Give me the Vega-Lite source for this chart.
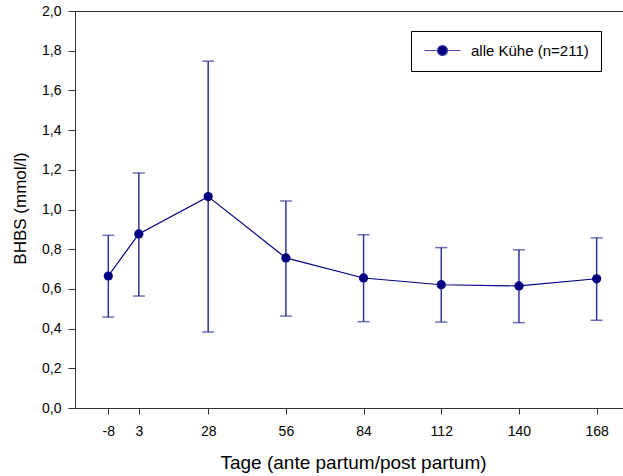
{
  "$schema": "https://vega.github.io/schema/vega-lite/v6.json",
  "autosize": {"type": "none"},
  "padding": {"left": 75, "top": 11, "right": 0, "bottom": 68},
  "width": 548,
  "height": 397,
  "background": "white",
  "config": {
    "font": "Liberation Sans",
    "view": {"stroke": "#333333", "strokeWidth": 1},
    "axis": {"grid": false, "domainColor": "#333333", "tickColor": "#333333", "labelColor": "black", "titleColor": "black", "labelFont": "Liberation Sans", "titleFont": "Liberation Sans", "titleFontWeight": "normal"}
  },
  "data": {
    "values": [
      {"day": -8, "mean": 0.665, "lo": 0.458, "hi": 0.870, "series": "alle Kühe (n=211)"},
      {"day": 3, "mean": 0.877, "lo": 0.564, "hi": 1.184, "series": "alle Kühe (n=211)"},
      {"day": 28, "mean": 1.065, "lo": 0.383, "hi": 1.747, "series": "alle Kühe (n=211)"},
      {"day": 56, "mean": 0.756, "lo": 0.463, "hi": 1.043, "series": "alle Kühe (n=211)"},
      {"day": 84, "mean": 0.655, "lo": 0.435, "hi": 0.873, "series": "alle Kühe (n=211)"},
      {"day": 112, "mean": 0.621, "lo": 0.433, "hi": 0.808, "series": "alle Kühe (n=211)"},
      {"day": 140, "mean": 0.615, "lo": 0.430, "hi": 0.797, "series": "alle Kühe (n=211)"},
      {"day": 168, "mean": 0.651, "lo": 0.442, "hi": 0.857, "series": "alle Kühe (n=211)"}
    ]
  },
  "encoding": {
    "x": {
      "field": "day", "type": "quantitative",
      "scale": {"domain": [-20, 177.5], "nice": false, "zero": false},
      "axis": {
        "title": "Tage (ante partum/post partum)",
        "values": [-8, 3, 28, 56, 84, 112, 140, 168],
        "labelExpr": "datum.value < 0 ? '-' + abs(datum.value) : '' + datum.value",
        "tickSize": 6, "labelPadding": 21, "labelBaseline": "alphabetic", "labelFontSize": 14,
        "labelFlush": false, "labelOverlap": false,
        "titleFontSize": 19, "titleX": 278, "titleY": 60, "titleBaseline": "alphabetic", "titleAlign": "center"
      }
    }
  },
  "layer": [
    {
      "mark": {"type": "rule", "color": "#33339c", "strokeWidth": 1.5},
      "encoding": {
        "y": {"field": "lo", "type": "quantitative", "scale": {"domain": [0, 2], "nice": false},
          "axis": {
            "title": "BHBS (mmol/l)",
            "values": [0, 0.2, 0.4, 0.6, 0.8, 1.0, 1.2, 1.4, 1.6, 1.8, 2.0],
            "labelExpr": "replace(format(datum.value, '.1f'), '.', ',')",
            "tickSize": 7, "labelPadding": 7, "labelFontSize": 14, "labelFlush": false, "labelOverlap": false,
            "titleFontSize": 17, "titleAngle": -90, "titleX": -55, "titleY": 197, "titleAlign": "center", "titleBaseline": "middle"
          }
        },
        "y2": {"field": "hi"}
      }
    },
    {
      "mark": {"type": "tick", "orient": "horizontal", "color": "#33339c", "thickness": 1.5, "size": 12},
      "encoding": {"y": {"field": "lo", "type": "quantitative",
          "axis": {
            "title": "BHBS (mmol/l)",
            "values": [0, 0.2, 0.4, 0.6, 0.8, 1.0, 1.2, 1.4, 1.6, 1.8, 2.0],
            "labelExpr": "replace(format(datum.value, '.1f'), '.', ',')",
            "tickSize": 7, "labelPadding": 7, "labelFontSize": 14, "labelFlush": false, "labelOverlap": false,
            "titleFontSize": 17, "titleAngle": -90, "titleX": -55, "titleY": 197, "titleAlign": "center", "titleBaseline": "middle"
          }}}
    },
    {
      "mark": {"type": "tick", "orient": "horizontal", "color": "#33339c", "thickness": 1.5, "size": 12},
      "encoding": {"y": {"field": "hi", "type": "quantitative",
          "axis": {
            "title": "BHBS (mmol/l)",
            "values": [0, 0.2, 0.4, 0.6, 0.8, 1.0, 1.2, 1.4, 1.6, 1.8, 2.0],
            "labelExpr": "replace(format(datum.value, '.1f'), '.', ',')",
            "tickSize": 7, "labelPadding": 7, "labelFontSize": 14, "labelFlush": false, "labelOverlap": false,
            "titleFontSize": 17, "titleAngle": -90, "titleX": -55, "titleY": 197, "titleAlign": "center", "titleBaseline": "middle"
          }}}
    },
    {
      "mark": {"type": "line", "color": "#000080", "strokeWidth": 1.2},
      "encoding": {"y": {"field": "mean", "type": "quantitative",
          "axis": {
            "title": "BHBS (mmol/l)",
            "values": [0, 0.2, 0.4, 0.6, 0.8, 1.0, 1.2, 1.4, 1.6, 1.8, 2.0],
            "labelExpr": "replace(format(datum.value, '.1f'), '.', ',')",
            "tickSize": 7, "labelPadding": 7, "labelFontSize": 14, "labelFlush": false, "labelOverlap": false,
            "titleFontSize": 17, "titleAngle": -90, "titleX": -55, "titleY": 197, "titleAlign": "center", "titleBaseline": "middle"
          }}}
    },
    {
      "mark": {"type": "point", "shape": "circle", "filled": true, "size": 85, "opacity": 1},
      "encoding": {
        "y": {"field": "mean", "type": "quantitative",
          "axis": {
            "title": "BHBS (mmol/l)",
            "values": [0, 0.2, 0.4, 0.6, 0.8, 1.0, 1.2, 1.4, 1.6, 1.8, 2.0],
            "labelExpr": "replace(format(datum.value, '.1f'), '.', ',')",
            "tickSize": 7, "labelPadding": 7, "labelFontSize": 14, "labelFlush": false, "labelOverlap": false,
            "titleFontSize": 17, "titleAngle": -90, "titleX": -55, "titleY": 197, "titleAlign": "center", "titleBaseline": "middle"
          }},
        "color": {
          "field": "series", "type": "nominal",
          "scale": {"range": ["#000080"]},
          "legend": {
            "title": null, "orient": "none", "legendX": 336, "legendY": 20,
            "strokeColor": "black", "padding": 12,
            "symbolType": "M-1.2,0L1.4,0M3.4,0L6,0M1.4,0A1,1,0,1,1,3.4,0A1,1,0,1,1,1.4,0Z",
            "symbolSize": 100, "symbolFillColor": "#000080", "symbolStrokeColor": "#4646a8", "symbolStrokeWidth": 1.2,
            "labelOffset": 33,
            "labelFontSize": 15, "labelFont": "Liberation Sans", "labelColor": "black", "labelLimit": 300
          }
        }
      }
    }
  ]
}
